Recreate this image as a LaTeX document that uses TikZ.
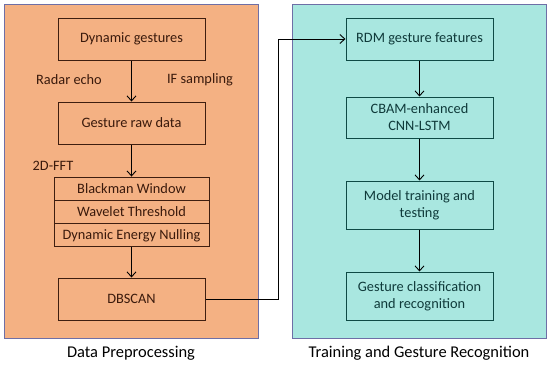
\documentclass[tikz,border=0pt]{standalone}
\usepackage{fontspec}
\setmainfont{Carlito}
\usetikzlibrary{arrows.meta}
\definecolor{orfill}{HTML}{F4B183}
\definecolor{tlfill}{HTML}{A9E7E0}
\definecolor{panelb}{HTML}{6E6FA6}
\definecolor{brownb}{HTML}{3E1E10}
\definecolor{tealb}{HTML}{0E4A45}
\definecolor{browntx}{HTML}{3A1A0C}
\definecolor{tealtx}{HTML}{0F3A3A}
\tikzset{
  panel/.style={draw=panelb, line width=0.8bp},
  lbox/.style={draw=brownb, line width=1bp, text=browntx, align=center, font=\fontsize{14.4}{17}\selectfont, inner sep=0pt},
  rbox/.style={draw=tealb, line width=1bp, text=tealtx, align=center, font=\fontsize{14.4}{17}\selectfont, inner sep=0pt},
  lbl/.style={text=browntx, font=\fontsize{14.4}{17}\selectfont, inner sep=0pt},
  captext/.style={text=black, font=\fontsize{16.5}{19}\selectfont, inner sep=0pt},
  arr/.style={draw=black, line width=0.9bp, -{Straight Barb[length=5bp,width=9bp]}}
}
\begin{document}
\begin{tikzpicture}[x=1bp,y=-1bp]
\useasboundingbox (0,0) rectangle (550,365);
\fill[white] (0,0) rectangle (550,365);
% panels
\path[panel, fill=orfill] (4,4) rectangle (258,338);
\path[panel, fill=tlfill] (292,4) rectangle (546,338);
% left boxes
\node[lbox, minimum width=147bp, minimum height=42bp] (dg) at (131.5,39) {Dynamic gestures};
\node[lbox, minimum width=147bp, minimum height=42bp] (raw) at (131.5,123) {Gesture raw data};
\node[lbox, minimum width=155bp, minimum height=23.3bp] (bw) at (131.5,188.7) {Blackman Window};
\node[lbox, minimum width=155bp, minimum height=23.3bp] (wt) at (131.5,212) {Wavelet Threshold};
\node[lbox, minimum width=155bp, minimum height=23.3bp] (den) at (131.5,235.3) {Dynamic Energy Nulling};
\node[lbox, minimum width=147bp, minimum height=42bp] (db) at (131.5,299) {DBSCAN};
% labels
\node[lbl] (re) at (69,80) {Radar echo};
\node[lbl] (ifs) at (200,80) {IF sampling};
\node[lbl] (fft) at (53,166) {2D-FFT};
% right boxes
\node[rbox, minimum width=147bp, minimum height=42bp] (rdm) at (419.5,39) {RDM gesture features};
\node[rbox, minimum width=147bp, minimum height=41bp] (cbam) at (419.5,117.5) {CBAM-enhanced\\CNN-LSTM};
\node[rbox, minimum width=147bp, minimum height=48bp] (mt) at (419.5,205) {Model training and\\testing};
\node[rbox, minimum width=147bp, minimum height=48bp] (gc) at (419.5,296) {Gesture classification\\and recognition};
% captions
\node[captext] (c1) at (131,353) {Data Preprocessing};
\node[captext] (c2) at (419,353) {Training and Gesture Recognition};
% arrows
\draw[arr] (dg) -- (raw);
\draw[arr] (raw) -- (bw);
\draw[arr] (den) -- (db);
\coordinate (k1) at (278,299);
\coordinate (k2) at (278,39);
\draw[arr] (db.east) -- (k1) -- (k2) -- (rdm.west);
\draw[arr] (rdm) -- (cbam);
\draw[arr] (cbam) -- (mt);
\draw[arr] (mt) -- (gc);
\end{tikzpicture}
\end{document}
